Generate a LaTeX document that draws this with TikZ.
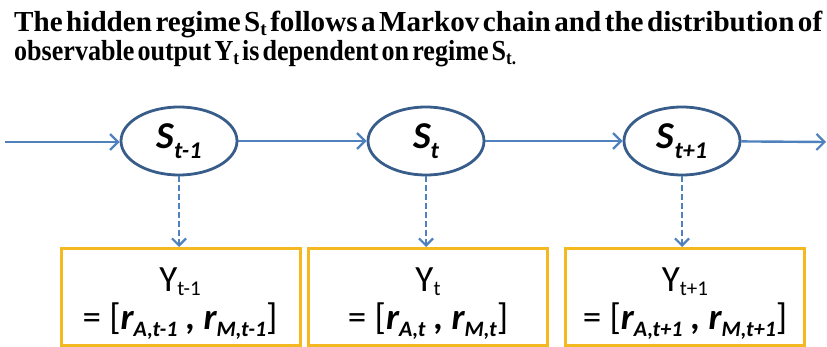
\documentclass[tikz,border=0pt]{standalone}
\usepackage{fontspec}
\usepackage{graphicx}
\setmainfont{Carlito}
\newfontfamily\titlefont{Liberation Serif}
\usetikzlibrary{arrows.meta,shapes.geometric}
\definecolor{chainblue}{HTML}{4F81BD}
\definecolor{ringblue}{HTML}{385D8A}
\definecolor{boxgold}{HTML}{F4B821}
% lowered subscripts of fixed size, in the current family and series
\newcommand\lowsub[3]{\raisebox{-#2pt}{\fontsize{#1}{#1}\selectfont #3}}
\newcommand\hsub[1]{\lowsub{19}{4}{#1}}
\newcommand\stsub[1]{\lowsub{24}{10}{#1}}
\newcommand\ysub[1]{\lowsub{21}{5}{#1}}
\newcommand\rsub[1]{\lowsub{22}{7}{#1}}
\newcommand\heading[2]{\resizebox{#1}{\height}{\titlefont\bfseries\fontsize{29}{29}\selectfont\spaceskip=0.12em #2}}

\begin{document}
\begin{tikzpicture}[x=1pt,y=-1pt,
  state/.style={ellipse, draw=ringblue, line width=2.8pt, fill=white,
    minimum width=116pt, minimum height=68pt, inner sep=0pt,
    font=\fontsize{38}{38}\selectfont\bfseries\itshape},
  obsbox/.style={rectangle, draw=boxgold, line width=3pt,
    minimum width=239pt, minimum height=97pt, inner sep=0pt},
  obstext/.style={inner sep=0pt, align=center,
    font=\fontsize{37}{38}\selectfont},
  trans/.style={draw=chainblue, line width=2.4pt,
    -{Straight Barb[length=8pt,width=16pt,line width=2.2pt]}},
  emit/.style={trans, dash pattern=on 6pt off 3pt,
    -{Straight Barb[length=7pt,width=14pt,line width=2.2pt]}}
]
\useasboundingbox (0,0) rectangle (827,347);

% heading, two condensed lines
\node[anchor=base west, inner sep=0pt] (title1) at (14,32)
  {\heading{808pt}{The hidden regime S\hsub{t} follows a Markov chain and the distribution of}};
\node[anchor=base west, inner sep=0pt] (title2) at (14,61)
  {\heading{502pt}{observable output Y\hsub{t} is dependent on regime S\hsub{t.}}};

% hidden regimes
\node[state] (s1) at (179,141) {S\stsub{t-1}};
\node[state] (s2) at (426,141) {S\stsub{t}};
\node[state] (s3) at (682,141) {S\stsub{t+1}};

% observed outputs
\node[obsbox] (b1) at (181,297) {};
\node[obsbox] (b2) at (428,297) {};
\node[obsbox] (b3) at (685,297) {};
% anchor base sits on the second line's baseline
\node[obstext, anchor=base] (y1) at (180,329) {Y\ysub{t-1}\\= [{\bfseries\itshape r\rsub{A,t-1} , r\rsub{M,t-1}}]};
\node[obstext, anchor=base] (y2) at (428,329) {Y\ysub{t}\\= [{\bfseries\itshape r\rsub{A,t} , r\rsub{M,t}}]};
\node[obstext, anchor=base] (y3) at (685,329) {Y\ysub{t+1}\\= [{\bfseries\itshape r\rsub{A,t+1} , r\rsub{M,t+1}}]};

\coordinate (in) at (5,142);
\coordinate (out) at (826,142);

% Markov transitions
\draw[trans] (in) -- (in -| s1.west);
\draw[trans] (s1) -- (s2);
\draw[trans] (s2) -- (s3);
\draw[trans] (s3) -- (out);

% emissions
\draw[emit] (s1) -- (s1 |- b1.north);
\draw[emit] (s2) -- (s2 |- b2.north);
\draw[emit] (s3) -- (s3 |- b3.north);
\end{tikzpicture}
\end{document}
